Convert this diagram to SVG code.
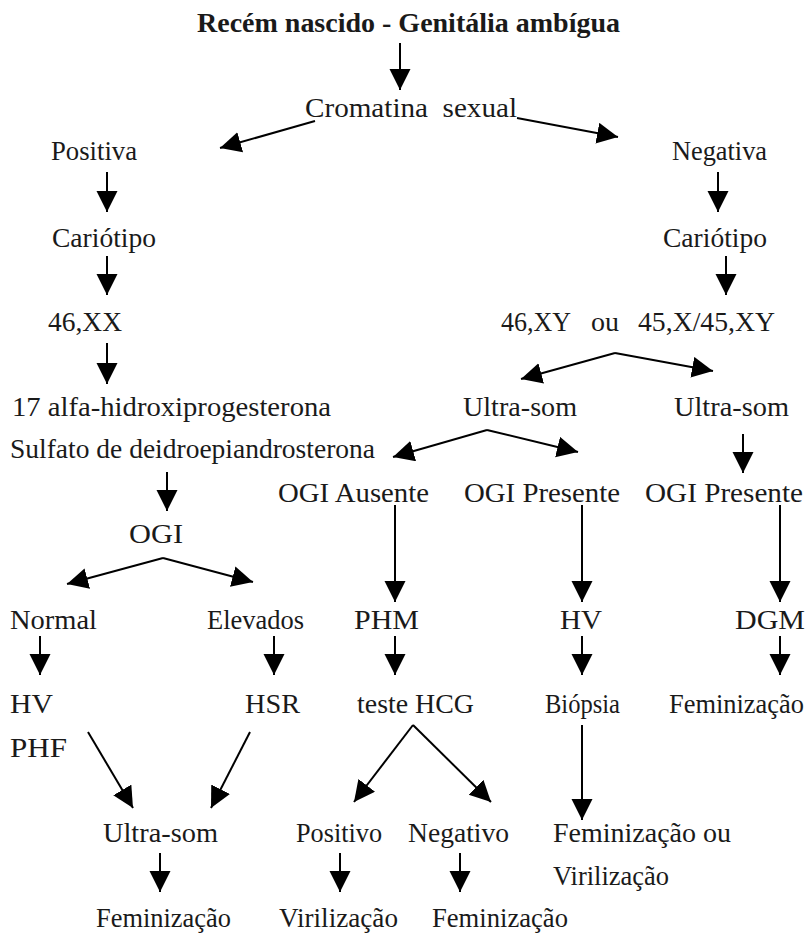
<svg xmlns="http://www.w3.org/2000/svg" width="811" height="937" viewBox="0 0 811 937">
<style>
text{font-family:"Liberation Serif","Times New Roman",serif;font-size:28px;fill:#1a1a1a}
.b{font-weight:bold}
.c line{stroke:#000;stroke-width:2;marker-end:url(#ah)}
</style>
<defs>
<marker id="ah" markerUnits="userSpaceOnUse" markerWidth="22" markerHeight="22" refX="21" refY="10.5" orient="auto">
<path d="M0,0 L21,10.5 L0,21 Z" fill="#000"/>
</marker>
</defs>
<rect width="811" height="937" fill="#fff"/>
<g id="n-title"><text class="b" x="197" y="32" textLength="423" lengthAdjust="spacingAndGlyphs">Recém nascido - Genitália ambígua</text></g>
<g id="n-cromatina"><text x="305" y="117" textLength="212" lengthAdjust="spacingAndGlyphs" xml:space="preserve">Cromatina  sexual</text></g>
<g id="n-positiva"><text x="51" y="160" textLength="86" lengthAdjust="spacingAndGlyphs">Positiva</text></g>
<g id="n-negativa"><text x="672" y="160" textLength="95" lengthAdjust="spacingAndGlyphs">Negativa</text></g>
<g id="n-cariotipo-l"><text x="52" y="247" textLength="104" lengthAdjust="spacingAndGlyphs">Cariótipo</text></g>
<g id="n-cariotipo-r"><text x="663" y="247" textLength="104" lengthAdjust="spacingAndGlyphs">Cariótipo</text></g>
<g id="n-46xx"><text x="48" y="331" textLength="74" lengthAdjust="spacingAndGlyphs">46,XX</text></g>
<g id="n-46xy"><text y="331"><tspan x="501" textLength="70" lengthAdjust="spacingAndGlyphs">46,XY</tspan><tspan x="591" textLength="28" lengthAdjust="spacingAndGlyphs">ou</tspan><tspan x="638" textLength="137" lengthAdjust="spacingAndGlyphs">45,X/45,XY</tspan></text></g>
<g id="n-17alfa"><text x="12" y="416" textLength="319" lengthAdjust="spacingAndGlyphs">17 alfa-hidroxiprogesterona</text></g>
<g id="n-sulfato"><text x="10" y="458" textLength="365" lengthAdjust="spacingAndGlyphs">Sulfato de deidroepiandrosterona</text></g>
<g id="n-ultrasom-m"><text x="463" y="416" textLength="114" lengthAdjust="spacingAndGlyphs">Ultra-som</text></g>
<g id="n-ultrasom-r"><text x="674" y="416" textLength="115" lengthAdjust="spacingAndGlyphs">Ultra-som</text></g>
<g id="n-ogi-ausente"><text x="278" y="502" textLength="151" lengthAdjust="spacingAndGlyphs">OGI Ausente</text></g>
<g id="n-ogi-presente-m"><text x="464" y="502" textLength="156" lengthAdjust="spacingAndGlyphs">OGI Presente</text></g>
<g id="n-ogi-presente-r"><text x="645" y="502" textLength="158" lengthAdjust="spacingAndGlyphs">OGI Presente</text></g>
<g id="n-ogi"><text x="129" y="543" textLength="54" lengthAdjust="spacingAndGlyphs">OGI</text></g>
<g id="n-normal"><text x="10" y="629" textLength="87" lengthAdjust="spacingAndGlyphs">Normal</text></g>
<g id="n-elevados"><text x="207" y="629" textLength="97" lengthAdjust="spacingAndGlyphs">Elevados</text></g>
<g id="n-phm"><text x="354" y="629" textLength="65" lengthAdjust="spacingAndGlyphs">PHM</text></g>
<g id="n-hv-m"><text x="560" y="629" textLength="42" lengthAdjust="spacingAndGlyphs">HV</text></g>
<g id="n-dgm"><text x="735" y="629" textLength="70" lengthAdjust="spacingAndGlyphs">DGM</text></g>
<g id="n-hv-phf"><text x="10" y="713" textLength="43" lengthAdjust="spacingAndGlyphs">HV</text><text x="10" y="757" textLength="57" lengthAdjust="spacingAndGlyphs">PHF</text></g>
<g id="n-hsr"><text x="245" y="713" textLength="55" lengthAdjust="spacingAndGlyphs">HSR</text></g>
<g id="n-hcg"><text x="357" y="713" textLength="117" lengthAdjust="spacingAndGlyphs">teste HCG</text></g>
<g id="n-biopsia"><text x="545" y="713" textLength="75" lengthAdjust="spacingAndGlyphs">Biópsia</text></g>
<g id="n-fem-r"><text x="669" y="713" textLength="135" lengthAdjust="spacingAndGlyphs">Feminização</text></g>
<g id="n-ultrasom-b"><text x="103" y="842" textLength="115" lengthAdjust="spacingAndGlyphs">Ultra-som</text></g>
<g id="n-positivo"><text x="296" y="842" textLength="86" lengthAdjust="spacingAndGlyphs">Positivo</text></g>
<g id="n-negativo"><text x="408" y="842" textLength="101" lengthAdjust="spacingAndGlyphs">Negativo</text></g>
<g id="n-fem-vir"><text x="553" y="842" textLength="178" lengthAdjust="spacingAndGlyphs">Feminização ou</text><text x="553" y="885" textLength="116" lengthAdjust="spacingAndGlyphs">Virilização</text></g>
<g id="n-fem-1"><text x="96" y="927" textLength="135" lengthAdjust="spacingAndGlyphs">Feminização</text></g>
<g id="n-vir-2"><text x="279" y="927" textLength="119" lengthAdjust="spacingAndGlyphs">Virilização</text></g>
<g id="n-fem-3"><text x="432" y="927" textLength="136" lengthAdjust="spacingAndGlyphs">Feminização</text></g>
<g id="connectors" class="c">
<line x1="400" y1="43" x2="400" y2="90"/>
<line x1="315" y1="121" x2="220" y2="148"/>
<line x1="517" y1="118" x2="618" y2="137"/>
<line x1="107" y1="172" x2="107" y2="212"/>
<line x1="718" y1="172" x2="718" y2="212"/>
<line x1="107" y1="256" x2="107" y2="295"/>
<line x1="726" y1="256" x2="726" y2="295"/>
<line x1="107" y1="343" x2="107" y2="384"/>
<line x1="615" y1="353" x2="521" y2="379"/>
<line x1="615" y1="353" x2="713" y2="371"/>
<line x1="487" y1="430" x2="393" y2="457"/>
<line x1="487" y1="430" x2="578" y2="452"/>
<line x1="743" y1="434" x2="743" y2="473"/>
<line x1="167" y1="472" x2="167" y2="511"/>
<line x1="163" y1="558" x2="67" y2="584"/>
<line x1="163" y1="558" x2="253" y2="582"/>
<line x1="395" y1="505" x2="395" y2="602"/>
<line x1="582" y1="505" x2="582" y2="602"/>
<line x1="780" y1="505" x2="780" y2="602"/>
<line x1="40" y1="636" x2="40" y2="675"/>
<line x1="274" y1="636" x2="274" y2="675"/>
<line x1="395" y1="636" x2="395" y2="675"/>
<line x1="582" y1="636" x2="582" y2="675"/>
<line x1="780" y1="636" x2="780" y2="675"/>
<line x1="88" y1="732" x2="133" y2="808"/>
<line x1="250" y1="732" x2="211" y2="808"/>
<line x1="413" y1="725" x2="354" y2="802"/>
<line x1="413" y1="725" x2="491" y2="802"/>
<line x1="582" y1="725" x2="582" y2="820"/>
<line x1="160" y1="853" x2="160" y2="892"/>
<line x1="340" y1="853" x2="340" y2="892"/>
<line x1="460" y1="853" x2="460" y2="892"/>
</g>
</svg>
